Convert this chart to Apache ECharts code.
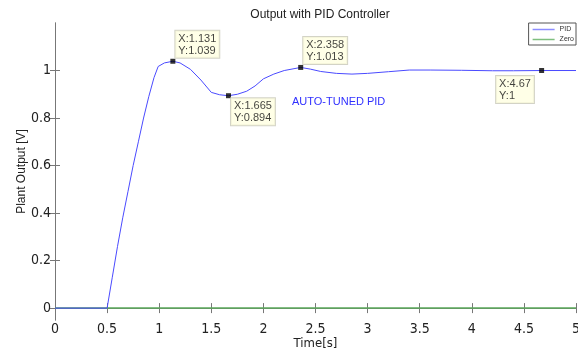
<!DOCTYPE html>
<html>
<head>
<meta charset="utf-8">
<script src="https://cdn.jsdelivr.net/npm/echarts@6/dist/echarts.min.js"></script>
<style>
  html, body { margin: 0; padding: 0; background: #fff; }
  #chart { width: 578px; height: 350px; }
</style>
</head>
<body>
<div id="chart"></div>
<script>
// step response: [time, output]
const pidData = [
  [0, 0], [0.5, 0], [0.55, 0.13], [0.6, 0.26], [0.65, 0.38], [0.7, 0.49],
  [0.75, 0.6], [0.8, 0.7], [0.85, 0.8], [0.9, 0.89], [0.95, 0.97],
  [0.99, 1.017], [1.05, 1.032], [1.131, 1.039], [1.2, 1.032], [1.3, 1.005],
  [1.4, 0.96], [1.5, 0.908], [1.58, 0.898], [1.665, 0.894], [1.75, 0.9],
  [1.84, 0.913], [1.92, 0.935], [2.0, 0.965], [2.1, 0.985], [2.2, 1.0],
  [2.358, 1.013], [2.45, 1.006], [2.55, 0.996], [2.7, 0.988], [2.85, 0.985],
  [3.0, 0.988], [3.2, 0.995], [3.4, 1.002], [3.6, 1.002], [3.9, 1.001],
  [4.2, 0.999], [4.4, 0.999], [4.67, 1.0], [5, 1.0]
];
const zeroData = [[0, 0], [5, 0]];

// data tips
const tipX = [1.131, 1.665, 2.358, 4.67];
const tipY = [1.039, 0.894, 1.013, 1];
const tipPos = [[5, -28], [5, 5], [5, -28], [-43, 8]];

const yTicks = [0, 0.2, 0.4, 0.6, 0.8, 1];

const font = '"DejaVu Sans Condensed", "Liberation Sans", sans-serif';

const chart = echarts.init(document.getElementById('chart'), null, { renderer: 'canvas' });

const tipSeriesData = tipX.map((x, i) => ({
  value: [x, tipY[i]],
  label: { position: tipPos[i] }
}));

const option = {
  animation: false,
  title: {
    text: 'Output with PID Controller',
    left: 315,
    textAlign: 'center',
    top: 4,
    textStyle: { fontFamily: 'Liberation Sans', fontSize: 12, fontWeight: 'normal', color: '#222' }
  },
  legend: {
    data: [
      { name: 'PID', icon: 'rect' },
      { name: 'Zero', icon: 'rect' }
    ],
    orient: 'vertical',
    right: 2,
    top: 23,
    itemWidth: 22,
    itemHeight: 1.5,
    itemGap: 3,
    padding: [3, 2, 2, 4],
    borderColor: '#555',
    borderWidth: 1,
    backgroundColor: '#fff',
    textStyle: { fontFamily: 'Liberation Sans', fontSize: 7, color: '#333' }
  },
  grid: { left: 55, right: 2, top: 23, bottom: 30, outerBoundsMode: 'none' },
  xAxis: [
    {
      type: 'value', min: 0, max: 5, interval: 0.5,
      name: 'Time[s]', nameLocation: 'middle', nameGap: 17, nameMoveOverlap: false,
      nameTextStyle: { fontFamily: font, fontSize: 13, color: '#222' },
      axisLine: { lineStyle: { color: '#777' } },
      axisTick: { inside: true, length: 5, lineStyle: { color: '#777' } },
      axisLabel: { fontFamily: font, fontSize: 14, color: '#222', margin: 2 },
      splitLine: { show: false }
    },
    {
      type: 'value', min: 0, max: 5, interval: 0.5, position: 'top',
      axisLine: { lineStyle: { color: '#777' } },
      axisTick: { inside: true, length: 5, lineStyle: { color: '#777' } },
      axisLabel: { show: false },
      splitLine: { show: false }
    }
  ],
  yAxis: [
    {
      type: 'value', min: -0.05, max: 1.2,
      name: 'Plant Output [V]', nameLocation: 'middle', nameGap: 27, nameMoveOverlap: false,
      nameTextStyle: { fontFamily: 'Liberation Sans', fontSize: 12, color: '#222' },
      axisLine: { show: true, lineStyle: { color: '#777' } },
      axisTick: { show: true, inside: true, length: 5, customValues: yTicks, lineStyle: { color: '#777' } },
      axisLabel: {
        fontFamily: font, fontSize: 14, color: '#222', margin: 4,
        customValues: yTicks,
        formatter: v => String(+v.toFixed(1))
      },
      splitLine: { show: false }
    },
    {
      type: 'value', min: -0.05, max: 1.2, position: 'right',
      axisLine: { show: true, lineStyle: { color: '#777' } },
      axisTick: { show: true, inside: true, length: 5, customValues: yTicks, lineStyle: { color: '#777' } },
      axisLabel: { show: false },
      splitLine: { show: false }
    }
  ],
  graphic: [
    {
      type: 'text', left: 292, top: 96,
      style: { text: 'AUTO-TUNED PID', fill: '#3030ff', font: '11px "Liberation Sans"' }
    }
  ],
  series: [
    {
      name: 'PID', type: 'line', data: pidData, showSymbol: false,
      lineStyle: { color: '#4a4aff', width: 1 },
      itemStyle: { color: '#8c8cff' },
      z: 3
    },
    {
      name: 'Zero', type: 'line', data: zeroData, showSymbol: false,
      lineStyle: { color: '#5aa85a', width: 1.5 },
      itemStyle: { color: '#7fbf7f' },
      z: 2
    },
    {
      name: 'tips', type: 'scatter', data: tipSeriesData,
      symbol: 'rect', symbolSize: 5,
      itemStyle: { color: '#000' },
      z: 5,
      label: {
        show: true,
        align: 'left', verticalAlign: 'top',
        formatter: p => 'X:' + p.value[0] + '\nY:' + p.value[1],
        fontFamily: 'Liberation Sans', fontSize: 11, lineHeight: 12,
        color: '#111',
        backgroundColor: '#ffffe1',
        borderColor: '#c8c8b8', borderWidth: 1,
        padding: [2, 3, 1, 3]
      }
    }
  ]
};

chart.setOption(option);
</script>
</body>
</html>
